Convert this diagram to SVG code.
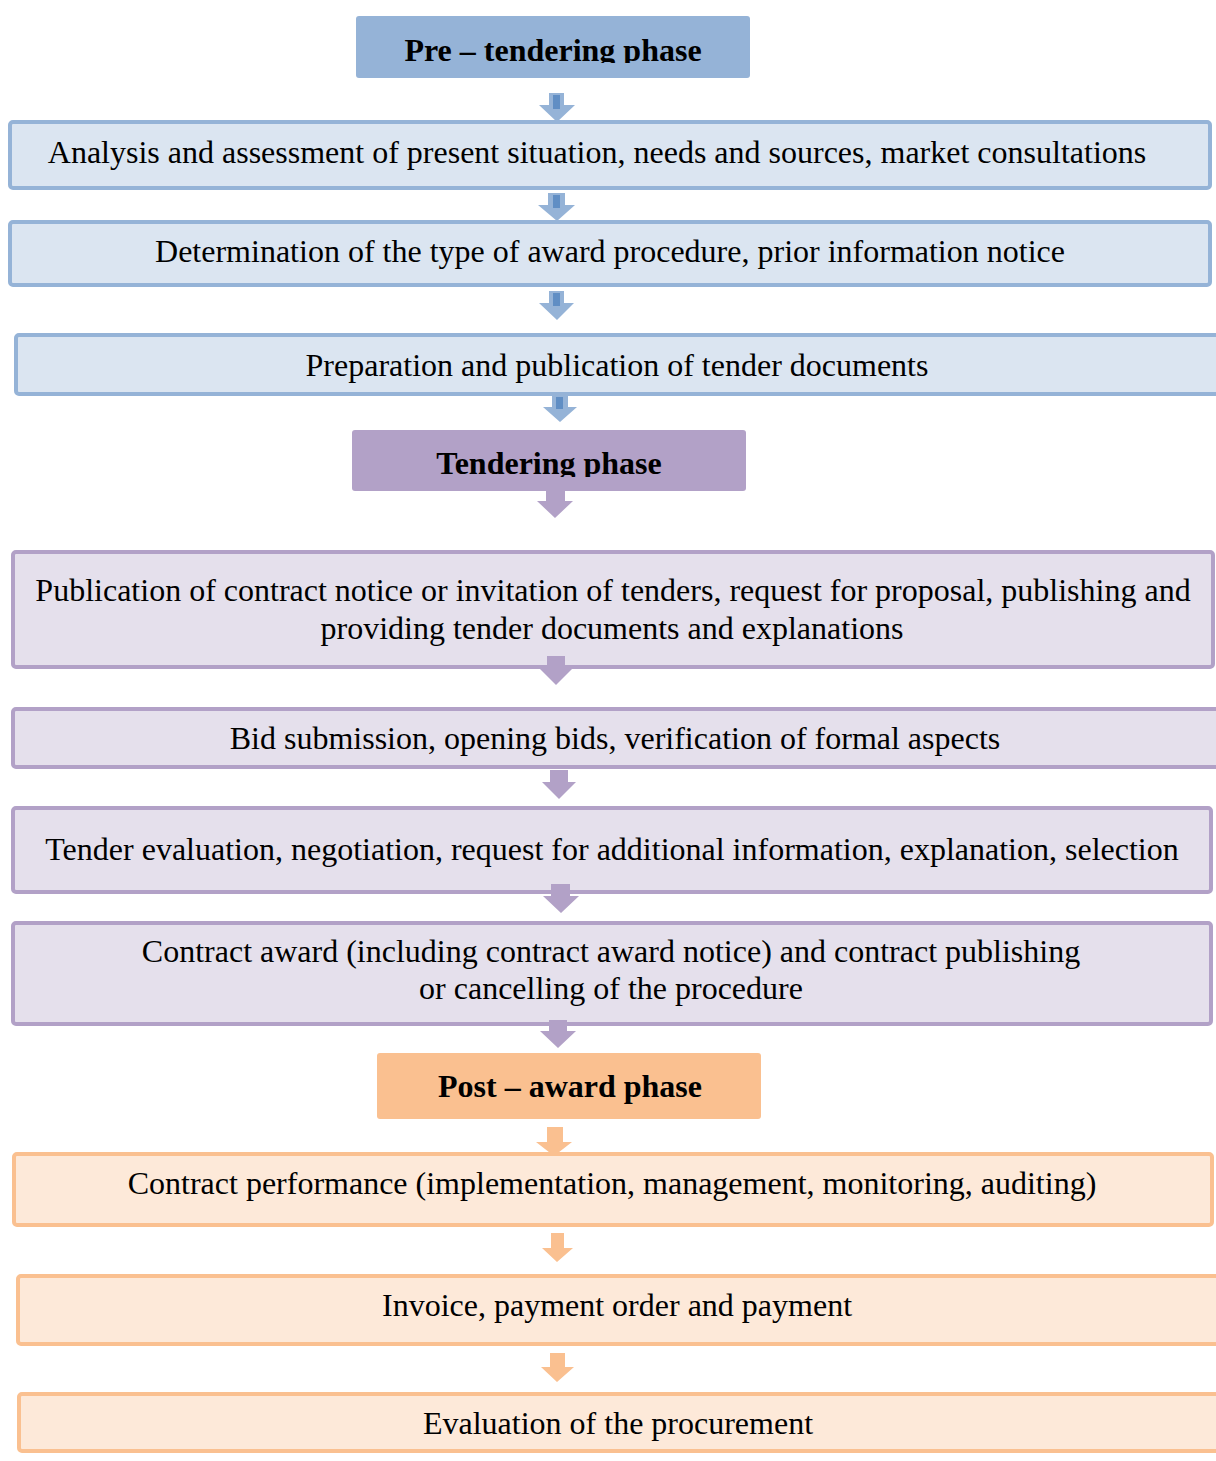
<svg xmlns="http://www.w3.org/2000/svg" width="1216" height="1461" viewBox="0 0 1216 1461">
<style>
text{font-family:"Liberation Serif","Times New Roman",serif;font-size:32px;fill:#000;text-anchor:middle}
.h{font-weight:bold}
.bb{fill:#dbe5f1;stroke:#95b3d7;stroke-width:4}
.pb{fill:#e5e0ec;stroke:#b2a1c7;stroke-width:4}
.ob{fill:#fde9d9;stroke:#fac090;stroke-width:4}
.ba{fill:#95b3d7}
.bi{fill:#4f81bd;opacity:.75}
.pa{fill:#b2a1c7}
.oa{fill:#fac090}
</style>
<defs>
<clipPath id="c1"><rect x="356" y="16" width="394" height="47"/></clipPath>
<clipPath id="c2"><rect x="352" y="430" width="394" height="47"/></clipPath>
</defs>
<rect width="1216" height="1461" fill="#fff"/>
<g id="pre-header"><rect x="356" y="16" width="394" height="62" rx="3" fill="#95b3d7"/><text class="h" x="553" y="61" clip-path="url(#c1)">Pre – tendering phase</text></g>
<g id="analysis"><rect class="bb" x="10" y="122" width="1200" height="66" rx="3"/><text x="597" y="163">Analysis and assessment of present situation, needs and sources, market consultations</text></g>
<g id="determination"><rect class="bb" x="10" y="222" width="1200" height="63" rx="3"/><text x="610" y="262">Determination of the type of award procedure, prior information notice</text></g>
<g id="preparation"><rect class="bb" x="16" y="335" width="1204" height="59" rx="3"/><text x="617" y="376">Preparation and publication of tender documents</text></g>
<g id="tendering-header"><rect x="352" y="430" width="394" height="61" rx="3" fill="#b2a1c7"/><text class="h" x="549" y="474" clip-path="url(#c2)">Tendering phase</text></g>
<g id="publication"><rect class="pb" x="13" y="552" width="1200" height="115" rx="3"/><text x="613" y="601">Publication of contract notice or invitation of tenders, request for proposal, publishing and</text><text x="612" y="639">providing tender documents and explanations</text></g>
<g id="bid"><rect class="pb" x="13" y="709" width="1206" height="58" rx="3"/><text x="615" y="749">Bid submission, opening bids, verification of formal aspects</text></g>
<g id="evaluation"><rect class="pb" x="13" y="808" width="1198" height="84" rx="3"/><text x="612" y="860">Tender evaluation, negotiation, request for additional information, explanation, selection</text></g>
<g id="award"><rect class="pb" x="13" y="923" width="1198" height="101" rx="3"/><text x="611" y="962">Contract award (including contract award notice) and contract publishing</text><text x="611" y="999">or cancelling of the procedure</text></g>
<g id="post-header"><rect x="377" y="1053" width="384" height="66" rx="3" fill="#fac090"/><text class="h" x="570" y="1097">Post – award phase</text></g>
<g id="performance"><rect class="ob" x="14" y="1154" width="1198" height="71" rx="3"/><text x="612" y="1194">Contract performance (implementation, management, monitoring, auditing)</text></g>
<g id="invoice"><rect class="ob" x="18" y="1276" width="1202" height="68" rx="3"/><text x="617" y="1316">Invoice, payment order and payment</text></g>
<g id="procurement-eval"><rect class="ob" x="19" y="1394" width="1202" height="57" rx="3"/><text x="618" y="1434">Evaluation of the procurement</text></g>
<g id="connectors">
<path class="ba" d="M549 93H564V105H575L557 122L539 105H549Z"/><rect class="bi" x="553" y="95" width="7" height="14"/>
<path class="ba" d="M548 193H565V205H575L557 221L538 205H548Z"/><rect class="bi" x="553" y="195" width="7" height="13"/>
<path class="ba" d="M549 291H564V303H574L557 320L539 303H549Z"/><rect class="bi" x="553" y="293" width="7" height="13"/>
<path class="ba" d="M552 396H568V407H577L560 422L543 407H552Z"/><rect class="bi" x="556" y="397" width="7" height="12"/>
<path class="pa" d="M546 491H565V501H573L555 518L537 501H546Z"/>
<path class="pa" d="M547 656H565V668H573L556 685L539 668H547Z"/>
<path class="pa" d="M550 770H568V782H576L559 799L542 782H550Z"/>
<path class="pa" d="M551 884H570V896H579L561 913L543 896H551Z"/>
<path class="pa" d="M549 1020H567V1031H576L558 1048L540 1031H549Z"/>
<path class="oa" d="M547 1127H563V1142H572L554 1156L536 1142H547Z"/>
<path class="oa" d="M551 1233H564V1248H573L557 1262L542 1248H551Z"/>
<path class="oa" d="M550 1353H565V1367H574L557 1382L541 1367H550Z"/>
</g>
</svg>
